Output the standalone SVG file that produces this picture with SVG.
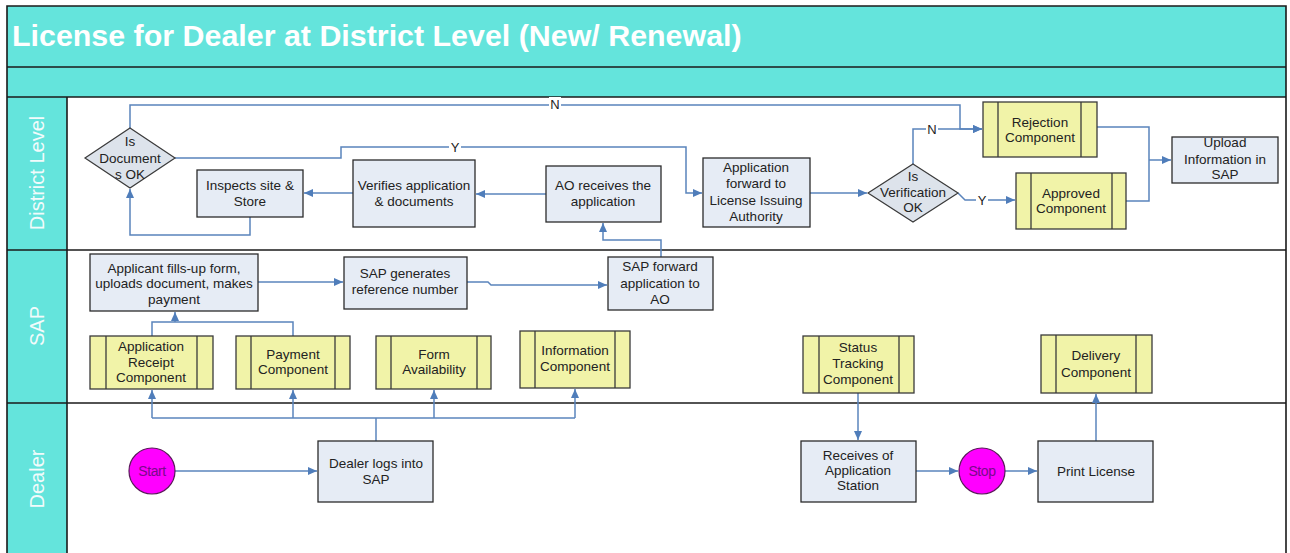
<svg xmlns="http://www.w3.org/2000/svg" width="1290" height="553" viewBox="0 0 1290 553">
<style>
.t{font-family:"Liberation Sans",Arial,sans-serif;font-size:13.5px;fill:#222;text-anchor:middle}
.lane{font-family:"Liberation Sans",Arial,sans-serif;font-size:20px;fill:#f2fbfb;text-anchor:middle}
.box{fill:#E6ECF5;stroke:#2b2b2b;stroke-width:1.3}
.comp{fill:#F1F3A8;stroke:#3a3a3a;stroke-width:1.3}
.dia{fill:#DDE3EB;stroke:#3a3a3a;stroke-width:1.2}
.term{fill:#FF00FF;stroke:#5a1a5a;stroke-width:1.2}
.tt{font-family:"Liberation Sans",Arial,sans-serif;font-size:14px;fill:#7a0a8a;text-anchor:middle;letter-spacing:-0.4px}
.c{fill:none;stroke:#5A84BC;stroke-width:1.5}
.ca{fill:none;stroke:#5A84BC;stroke-width:1.5;marker-end:url(#ah)}
.lbl{font-family:"Liberation Sans",Arial,sans-serif;font-size:13px;fill:#222;text-anchor:middle}
.frame{fill:none;stroke:#1a1a1a;stroke-width:1.6}
.in{stroke:#3a3a3a;stroke-width:1.3}
</style>
<defs>
<marker id="ah" markerWidth="9" markerHeight="8" refX="9" refY="4" orient="auto" markerUnits="userSpaceOnUse">
<path d="M0,0 L9,4 L0,8 z" fill="#4F7DBA"/>
</marker>
</defs>
<rect width="1290" height="553" fill="#ffffff"/>
<g id="pool">
<rect x="7" y="6" width="1279" height="91" fill="#64E4DC"/>
<rect x="7" y="97" width="60" height="456" fill="#64E4DC"/>
<text x="12" y="46" style="font-family:'Liberation Sans',Arial,sans-serif;font-size:30.4px;font-weight:bold;fill:#ffffff">License for Dealer at District Level (New/ Renewal)</text>
<line x1="7" y1="67" x2="1286" y2="67" class="frame"/>
<line x1="7" y1="97" x2="1286" y2="97" class="frame"/>
<line x1="7" y1="250" x2="1286" y2="250" class="frame"/>
<line x1="7" y1="403" x2="1286" y2="403" class="frame"/>
<line x1="67" y1="97" x2="67" y2="553" class="frame"/>
<path d="M7,553 V6 H1286 V553" class="frame"/>
<text class="lane" transform="translate(44,173) rotate(-90)">District Level</text>
<text class="lane" transform="translate(44,326) rotate(-90)">SAP</text>
<text class="lane" transform="translate(44,479) rotate(-90)">Dealer</text>
</g>
<g id="connectors">
<polyline class="ca" points="130,128 130,105 960,105 960,129 982,129"/>
<rect x="549" y="97" width="12" height="14" fill="#fff"/>
<text class="lbl" x="555" y="109">N</text>
<polyline class="ca" points="175,158 341,158 341,147 686,147 686,193 702,193"/>
<rect x="449" y="140" width="12" height="14" fill="#fff"/>
<text class="lbl" x="455" y="152">Y</text>
<line class="ca" x1="353" y1="193" x2="304" y2="193"/>
<line class="ca" x1="546" y1="194" x2="476" y2="194"/>
<polyline class="ca" points="250,217 250,235 130,235 130,189"/>
<line class="ca" x1="810" y1="193" x2="867" y2="193"/>
<polyline class="ca" points="913,164 913,129 982,129"/>
<rect x="926" y="122" width="12" height="14" fill="#fff"/>
<text class="lbl" x="932" y="134">N</text>
<polyline class="ca" points="958,193 965,200 1015,200"/>
<rect x="976" y="193" width="12" height="14" fill="#fff"/>
<text class="lbl" x="982" y="205">Y</text>
<polyline class="c" points="1097,127 1149,127 1149,201 1126,201"/>
<line class="ca" x1="1149" y1="160" x2="1171" y2="160"/>
<line class="ca" x1="258" y1="282" x2="343" y2="282"/>
<polyline class="ca" points="467,282 488,282 491,285 607,285"/>
<polyline class="ca" points="661,257 661,240 603,240 603,223"/>
<polyline class="c" points="152,336 152,322 293,322 293,336"/>
<line class="ca" x1="175" y1="322" x2="175" y2="312"/>
<polyline class="c" points="152,418 575,418"/>
<line class="c" x1="376" y1="441" x2="376" y2="418"/>
<line class="ca" x1="152" y1="418" x2="152" y2="390"/>
<line class="ca" x1="293" y1="418" x2="293" y2="390"/>
<line class="ca" x1="434" y1="418" x2="434" y2="390"/>
<line class="ca" x1="575" y1="418" x2="575" y2="389"/>
<line class="ca" x1="175" y1="471" x2="317" y2="471"/>
<line class="ca" x1="858" y1="393" x2="858" y2="440"/>
<line class="ca" x1="916" y1="471" x2="958" y2="471"/>
<line class="ca" x1="1005" y1="471" x2="1037" y2="471"/>
<line class="ca" x1="1096" y1="441" x2="1096" y2="394"/>
</g>
<g id="n-docok">
<polygon class="dia" points="130,128 175,158 130,188 85,158"/>
<text class="t" x="130" y="146">Is</text>
<text class="t" x="130" y="163">Document</text>
<text class="t" x="130" y="179">s OK</text>
</g>
<g id="n-inspects">
<rect class="box" x="197" y="170" width="106" height="47"/>
<text class="t" x="250" y="190">Inspects site &amp;</text>
<text class="t" x="250" y="206">Store</text>
</g>
<g id="n-verifies">
<rect class="box" x="353" y="160" width="122" height="67"/>
<text class="t" x="414" y="190">Verifies application</text>
<text class="t" x="414" y="206">&amp; documents</text>
</g>
<g id="n-aoreceives">
<rect class="box" x="546" y="166" width="115" height="56"/>
<text class="t" x="603" y="190">AO receives the</text>
<text class="t" x="603" y="206">application</text>
</g>
<g id="n-forward">
<rect class="box" x="703" y="158" width="107" height="69"/>
<text class="t" x="756" y="172">Application</text>
<text class="t" x="756" y="188">forward to</text>
<text class="t" x="756" y="205">License Issuing</text>
<text class="t" x="756" y="221">Authority</text>
</g>
<g id="n-verok">
<polygon class="dia" points="913,164 958,193 913,222 868,193"/>
<text class="t" x="913" y="181">Is</text>
<text class="t" x="913" y="197">Verification</text>
<text class="t" x="913" y="212">OK</text>
</g>
<g id="n-rejection">
<rect class="comp" x="983" y="102" width="114" height="55"/>
<line class="in" x1="998" y1="102" x2="998" y2="157"/>
<line class="in" x1="1081" y1="102" x2="1081" y2="157"/>
<text class="t" x="1040" y="127">Rejection</text>
<text class="t" x="1040" y="142">Component</text>
</g>
<g id="n-approved">
<rect class="comp" x="1016" y="173" width="110" height="56"/>
<line class="in" x1="1031" y1="173" x2="1031" y2="229"/>
<line class="in" x1="1112" y1="173" x2="1112" y2="229"/>
<text class="t" x="1071" y="198">Approved</text>
<text class="t" x="1071" y="213">Component</text>
</g>
<g id="n-upload">
<rect class="box" x="1172" y="137" width="106" height="46"/>
<text class="t" x="1225" y="147">Upload</text>
<text class="t" x="1225" y="164">Information in</text>
<text class="t" x="1225" y="179">SAP</text>
</g>
<g id="n-applicant">
<rect class="box" x="90" y="254" width="168" height="57"/>
<text class="t" x="174" y="273">Applicant fills-up form,</text>
<text class="t" x="174" y="288">uploads document, makes</text>
<text class="t" x="174" y="304">payment</text>
</g>
<g id="n-sapgen">
<rect class="box" x="344" y="257" width="123" height="52"/>
<text class="t" x="405" y="278">SAP generates</text>
<text class="t" x="405" y="294">reference number</text>
</g>
<g id="n-sapfwd">
<rect class="box" x="608" y="257" width="105" height="53"/>
<text class="t" x="660" y="271">SAP forward</text>
<text class="t" x="660" y="288">application to</text>
<text class="t" x="660" y="304">AO</text>
</g>
<g id="n-appreceipt">
<rect class="comp" x="90" y="336" width="123" height="53"/>
<line class="in" x1="106" y1="336" x2="106" y2="389"/>
<line class="in" x1="197" y1="336" x2="197" y2="389"/>
<text class="t" x="151" y="351">Application</text>
<text class="t" x="151" y="367">Receipt</text>
<text class="t" x="151" y="382">Component</text>
</g>
<g id="n-payment">
<rect class="comp" x="236" y="336" width="114" height="53"/>
<line class="in" x1="251" y1="336" x2="251" y2="389"/>
<line class="in" x1="335" y1="336" x2="335" y2="389"/>
<text class="t" x="293" y="359">Payment</text>
<text class="t" x="293" y="374">Component</text>
</g>
<g id="n-form">
<rect class="comp" x="376" y="336" width="115" height="53"/>
<line class="in" x1="391" y1="336" x2="391" y2="389"/>
<line class="in" x1="477" y1="336" x2="477" y2="389"/>
<text class="t" x="434" y="359">Form</text>
<text class="t" x="434" y="374">Availability</text>
</g>
<g id="n-information">
<rect class="comp" x="520" y="331" width="110" height="57"/>
<line class="in" x1="535" y1="331" x2="535" y2="388"/>
<line class="in" x1="615" y1="331" x2="615" y2="388"/>
<text class="t" x="575" y="355">Information</text>
<text class="t" x="575" y="371">Component</text>
</g>
<g id="n-status">
<rect class="comp" x="803" y="336" width="111" height="57"/>
<line class="in" x1="819" y1="336" x2="819" y2="393"/>
<line class="in" x1="899" y1="336" x2="899" y2="393"/>
<text class="t" x="858" y="352">Status</text>
<text class="t" x="858" y="368">Tracking</text>
<text class="t" x="858" y="384">Component</text>
</g>
<g id="n-delivery">
<rect class="comp" x="1041" y="335" width="111" height="58"/>
<line class="in" x1="1056" y1="335" x2="1056" y2="393"/>
<line class="in" x1="1136" y1="335" x2="1136" y2="393"/>
<text class="t" x="1096" y="360">Delivery</text>
<text class="t" x="1096" y="377">Component</text>
</g>
<g id="n-start">
<circle class="term" cx="152" cy="471" r="23"/>
<text class="tt" x="152" y="476">Start</text>
</g>
<g id="n-dealerlogs">
<rect class="box" x="318" y="441" width="115" height="61"/>
<text class="t" x="376" y="468">Dealer logs into</text>
<text class="t" x="376" y="484">SAP</text>
</g>
<g id="n-receives">
<rect class="box" x="801" y="441" width="115" height="61"/>
<text class="t" x="858" y="460">Receives of</text>
<text class="t" x="858" y="475">Application</text>
<text class="t" x="858" y="490">Station</text>
</g>
<g id="n-stop">
<circle class="term" cx="982" cy="471" r="23"/>
<text class="tt" x="982" y="476">Stop</text>
</g>
<g id="n-print">
<rect class="box" x="1038" y="441" width="115" height="61"/>
<text class="t" x="1096" y="476">Print License</text>
</g>
</svg>
